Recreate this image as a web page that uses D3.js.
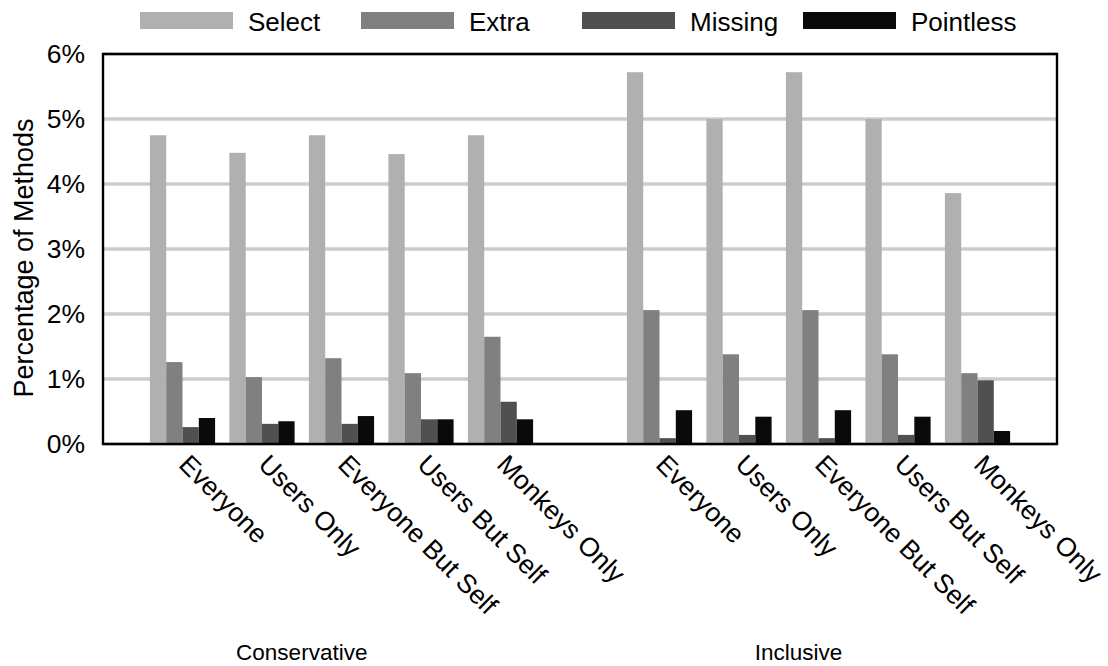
<!DOCTYPE html>
<html>
<head>
<meta charset="utf-8">
<script src="https://cdn.jsdelivr.net/npm/d3@7/dist/d3.min.js"></script>
<style>
  html, body { margin: 0; padding: 0; background: #fff; }
  svg { display: block; font-family: "Liberation Sans", Arial, Helvetica, sans-serif; }
</style>
</head>
<body>
<svg id="chart" width="1108" height="666"></svg>
<script>
// Categories (slot index on the x axis) and group labels
const groups = ["Conservative", "Inclusive"];
const categories = ["Everyone", "Users Only", "Everyone But Self", "Users But Self", "Monkeys Only"];
const series = ["Select", "Extra", "Missing", "Pointless"];
const seriesColors = ["#b0b0b0", "#808080", "#505050", "#0a0a0a"];
const yTicks = [0, 1, 2, 3, 4, 5, 6];

// Percent of methods, one array per series, Conservative then Inclusive
const selectValues    = [4.75, 4.48, 4.75, 4.46, 4.75,   5.72, 5.00, 5.72, 5.00, 3.86];
const extraValues     = [1.26, 1.03, 1.32, 1.09, 1.65,   2.06, 1.38, 2.06, 1.38, 1.09];
const missingValues   = [0.26, 0.31, 0.31, 0.38, 0.65,   0.09, 0.14, 0.09, 0.14, 0.98];
const pointlessValues = [0.40, 0.35, 0.43, 0.38, 0.38,   0.52, 0.42, 0.52, 0.42, 0.20];

const valuesBySeries = [selectValues, extraValues, missingValues, pointlessValues];

// Each bar cluster sits on an integer slot; slot 6 separates the two groups
const rows = [];
groups.forEach((g, gi) => {
  categories.forEach((c, ci) => {
    const idx = gi * categories.length + ci;
    rows.push({
      group: g,
      category: c,
      slot: gi * (categories.length + 1) + ci + 1,
      values: series.map((s, si) => ({ series: s, value: valuesBySeries[si][idx] }))
    });
  });
});

const svg = d3.select("#chart");
const plot = { left: 103, top: 54, right: 1057, bottom: 444 };

const x = d3.scaleLinear().domain([0, 12]).range([plot.left, plot.right]);
const y = d3.scaleLinear().domain([0, 6]).range([plot.bottom, plot.top]);
const step = x(1) - x(0);
const inner = d3.scaleBand().domain(series).range([-step * 0.41, step * 0.41]).padding(0);
const color = d3.scaleOrdinal().domain(series).range(seriesColors);

// Horizontal grid lines
svg.append("g")
  .selectAll("line")
  .data(yTicks)
  .join("line")
  .attr("x1", plot.left).attr("x2", plot.right)
  .attr("y1", d => y(d)).attr("y2", d => y(d))
  .attr("stroke", "#cccccc")
  .attr("stroke-width", 3.5);

// Bars
const clusters = svg.append("g")
  .selectAll("g")
  .data(rows)
  .join("g")
  .attr("transform", d => `translate(${x(d.slot)},0)`);

clusters.selectAll("rect")
  .data(d => d.values)
  .join("rect")
  .attr("x", d => inner(d.series))
  .attr("width", inner.bandwidth())
  .attr("y", d => y(d.value))
  .attr("height", d => y(0) - y(d.value))
  .attr("fill", d => color(d.series));

// Plot frame
svg.append("rect")
  .attr("x", plot.left).attr("y", plot.top)
  .attr("width", plot.right - plot.left)
  .attr("height", plot.bottom - plot.top)
  .attr("fill", "none")
  .attr("stroke", "#000")
  .attr("stroke-width", 2.4);

// Y axis labels
const yAxis = d3.axisLeft(y)
  .tickValues(yTicks)
  .tickFormat(d => d + "%")
  .tickSize(0)
  .tickPadding(18);

svg.append("g")
  .attr("transform", `translate(${plot.left},0)`)
  .call(yAxis)
  .call(g => g.select(".domain").remove())
  .selectAll("text")
  .attr("font-family", "Liberation Sans, Arial, sans-serif")
  .attr("font-size", 26.5)
  .attr("fill", "#000");

// Y axis title
svg.append("text")
  .attr("transform", `translate(33,258) rotate(-90)`)
  .attr("text-anchor", "middle")
  .attr("font-size", 27)
  .attr("fill", "#000")
  .text("Percentage of Methods");

// Category labels, rotated
svg.append("g")
  .selectAll("text")
  .data(rows)
  .join("text")
  .attr("transform", d => `translate(${x(d.slot) - 5},${plot.bottom + 22}) rotate(45)`)
  .attr("text-anchor", "start")
  .attr("font-size", 26.5)
  .attr("fill", "#000")
  .text(d => d.category);

// Group labels
const groupCenters = [2.5, 8.75];
svg.append("g")
  .selectAll("text")
  .data(groups)
  .join("text")
  .attr("x", (d, i) => x(groupCenters[i]))
  .attr("y", 660)
  .attr("text-anchor", "middle")
  .attr("font-size", 22.5)
  .attr("fill", "#000")
  .text(d => d);

// Legend
const legend = svg.append("g")
  .selectAll("g")
  .data(series)
  .join("g")
  .attr("transform", (d, i) => `translate(${140 + i * 221},0)`);

legend.append("rect")
  .attr("x", 0).attr("y", 12)
  .attr("width", 93).attr("height", 17)
  .attr("fill", d => color(d));

legend.append("text")
  .attr("x", 108).attr("y", 31)
  .attr("font-size", 26)
  .attr("fill", "#000")
  .text(d => d);
</script>
</body>
</html>
